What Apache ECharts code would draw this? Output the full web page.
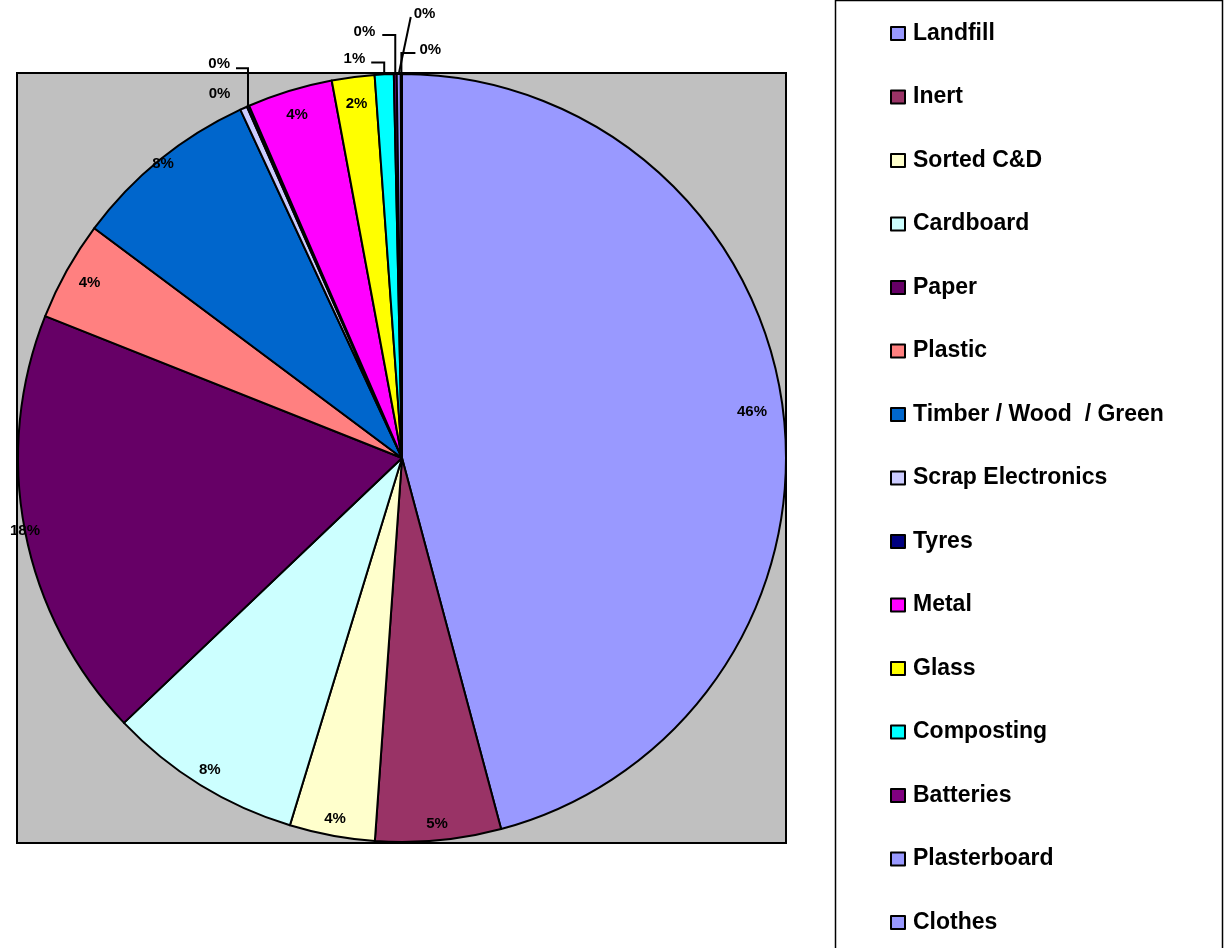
<!DOCTYPE html>
<html>
<head>
<meta charset="utf-8">
<script src="https://cdn.jsdelivr.net/npm/echarts@6/dist/echarts.min.js"></script>
<style>html,body{margin:0;padding:0;background:#fff;}#c{width:1229px;height:948px;}</style>
</head>
<body>
<div id="c"></div>
<script>
const categories = ['Landfill','Inert','Sorted C&D','Cardboard','Paper','Plastic','Timber / Wood  / Green','Scrap Electronics','Tyres','Metal','Glass','Composting','Batteries','Plasterboard','Clothes'];
const values = [46.0, 5.3, 3.6, 8.2, 18.2, 4.2, 7.9, 0.3, 0.1, 3.6, 1.8, 0.8, 0.12, 0.17, 0.05];
const colors = ['#9999FF','#993366','#FFFFCC','#CCFFFF','#660066','#FF8080','#0066CC','#CCCCFF','#000080','#FF00FF','#FFFF00','#00FFFF','#800080','#9999FF','#9999FF'];

// label placement styles (radius for inside labels; offsets from slice edge for outside ones)
const labelPlacement = {
  'Landfill': { r: 353 },
  'Inert': { r: 368 },
  'Sorted C&D': { r: 367 },
  'Cardboard': { r: 366 },
  'Paper': { r: 384 },
  'Plastic': { r: 358 },
  'Timber / Wood  / Green': { r: 379 },
  'Metal': { r: 359 },
  'Glass': { r: 357 },
  'Scrap Electronics': { lab: [-24, -14], align: 'center', noLine: true },
  'Tyres': { pts: [[0, -38], [-12, -38]], lab: [-18, -42], align: 'right' },
  'Composting': { pts: [[0, -12], [-13, -12]], lab: [-19, -16], align: 'right' },
  'Batteries': { pts: [[0, -39], [-13, -39]], lab: [-20, -42], align: 'right' },
  'Plasterboard': { pts: [[12, -57], [12, -57]], lab: [15, -60], align: 'left' },
  'Clothes': { pts: [[0, -21], [14, -21]], lab: [18, -24], align: 'left' }
};

const chart = echarts.init(document.getElementById('c'));
const FONT = '"Liberation Sans", Arial, sans-serif';
const center = [402, 458];
const R = 384;

const mainData = categories.map((n, i) => ({ name: n, value: values[i], itemStyle: { color: colors[i] } }));
const labelData = categories.map((n, i) => {
  const pl = labelPlacement[n];
  const outside = !pl.r;
  return {
    name: n, value: values[i],
    label: { position: outside ? 'outside' : 'inside' },
    labelLine: { show: outside, lineStyle: { opacity: pl.noLine ? 0 : 1 } }
  };
});

chart.setOption({
  animation: false,
  graphic: [
    { type: 'rect', z: -10, shape: { x: 17, y: 73, width: 769, height: 770 }, style: { fill: '#C0C0C0', stroke: '#000', lineWidth: 2 } },
    { type: 'rect', z: -10, shape: { x: 835.5, y: 0.5, width: 387, height: 970 }, style: { fill: '#fff', stroke: '#000', lineWidth: 1.5 } }
  ],
  legend: {
    orient: 'vertical',
    left: 885, top: 17,
    itemWidth: 14, itemHeight: 13,
    itemGap: 40.5,
    icon: 'rect',
    itemStyle: { borderColor: '#000', borderWidth: 2 },
    textStyle: { fontFamily: FONT, fontSize: 23, fontWeight: 'bold', color: '#000', padding: [0,0,0,3] },
    data: categories
  },
  series: [
    {
      type: 'pie', center: center, radius: [0, R], startAngle: 90, clockwise: true,
      label: { show: false }, labelLine: { show: false }, silent: true,
      itemStyle: { borderColor: '#000', borderWidth: 2 },
      data: mainData
    },
    {
      type: 'pie', center: center, radius: [340, R], startAngle: 90, clockwise: true,
      silent: true, avoidLabelOverlap: false,
      itemStyle: { color: 'rgba(0,0,0,0)', borderWidth: 0 },
      label: {
        show: true, fontFamily: FONT, fontSize: 15, fontWeight: 'bold', color: '#000',
        formatter: p => Math.round(p.percent) + '%'
      },
      labelLine: { length: 12, length2: 12, lineStyle: { color: '#000', width: 2 } },
      labelLayout: function (params) {
        const pl = labelPlacement[categories[params.dataIndex]];
        const lr = params.labelRect;
        if (pl.r) {
          const cx = lr.x + lr.width / 2, cy = lr.y + lr.height / 2;
          const dx = cx - center[0], dy = cy - center[1];
          const d = Math.hypot(dx, dy) || 1;
          return { x: center[0] + dx / d * pl.r, y: center[1] + dy / d * pl.r, align: 'center', verticalAlign: 'middle' };
        }
        const E = params.labelLinePoints ? params.labelLinePoints[0] : [lr.x, lr.y];
        const out = { x: E[0] + pl.lab[0], y: E[1] + pl.lab[1], align: pl.align, verticalAlign: 'middle' };
        if (pl.pts) {
          out.labelLinePoints = [E.slice(), [E[0] + pl.pts[0][0], E[1] + pl.pts[0][1]], [E[0] + pl.pts[1][0], E[1] + pl.pts[1][1]]];
        }
        return out;
      },
      data: labelData
    }
  ]
});
</script>
</body>
</html>
